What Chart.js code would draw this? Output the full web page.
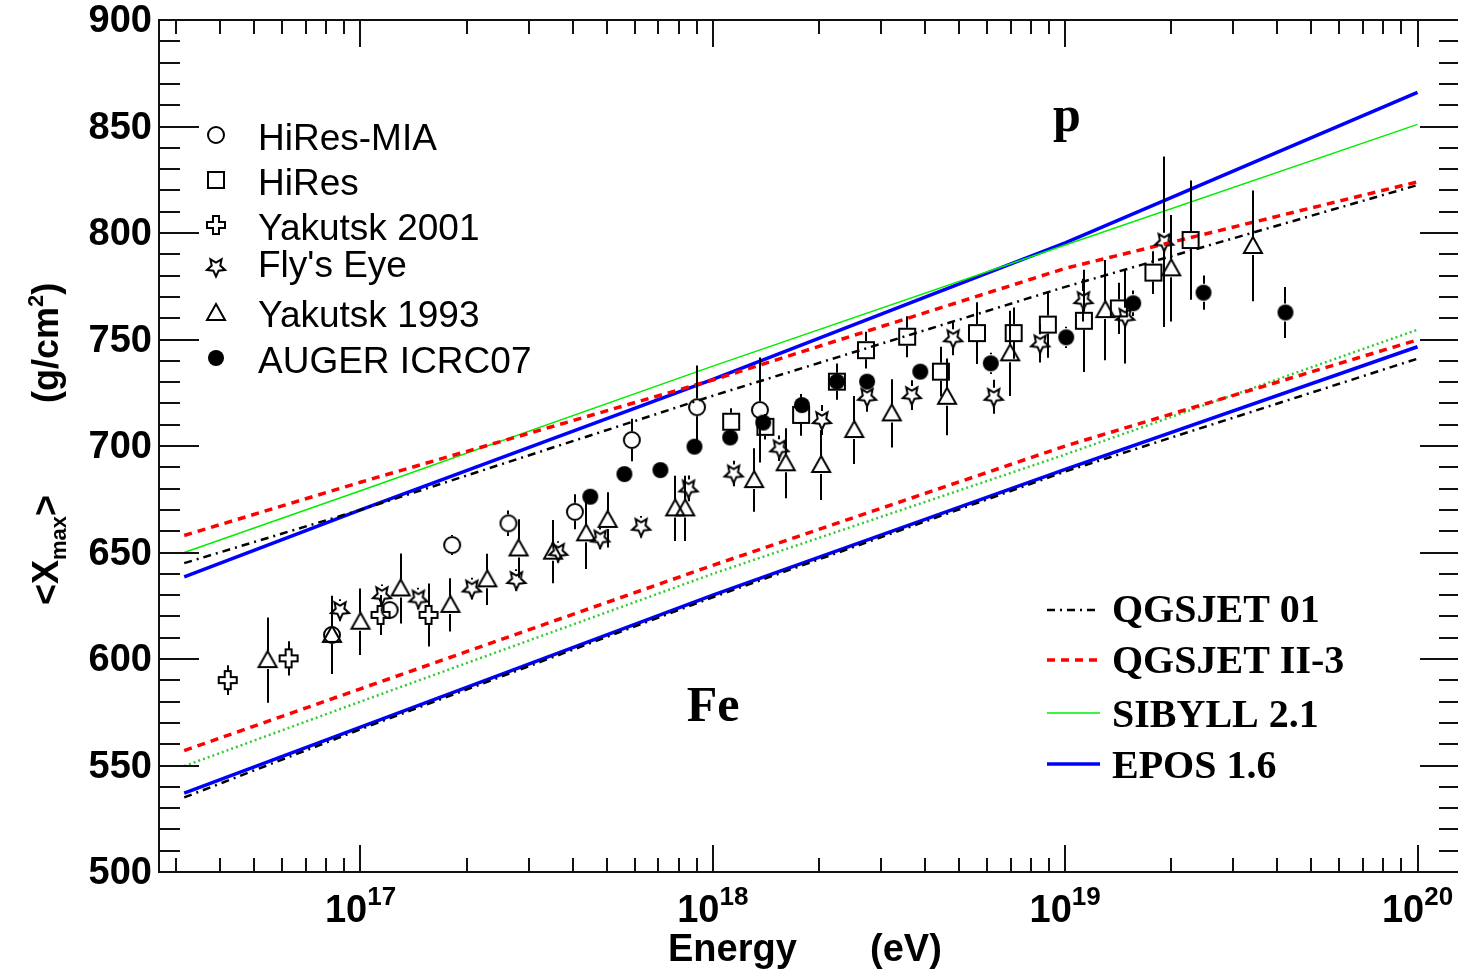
<!DOCTYPE html>
<html>
<head>
<meta charset="utf-8">
<script src="https://cdn.jsdelivr.net/npm/chart.js@4.4.0/dist/chart.umd.min.js"></script>
<style>
html, body { margin: 0; padding: 0; background: #fff; overflow: hidden; }
#wrap { width: 1458px; height: 971px; overflow: hidden; }
canvas { display: block; }
</style>
</head>
<body>
<div id="wrap"><canvas id="myChart" width="1464" height="971"></canvas></div>
<script>
// ---- model predictions (energy in eV, <Xmax> in g/cm2) ----
const modelEnergy = [3.16e16, 1e17, 1e18, 1e19, 1e20];
const qgsjet01P  = [645, 670, 723.6, 774.7, 822.5];
const qgsjet01Fe = [535, 567, 629, 688, 741];
const qgsjet2P   = [658, 683, 731, 783.4, 824];
const qgsjet2Fe  = [557, 586, 644, 700, 749.8];
const sibyllP    = [650, 679, 737.5, 794.4, 851];
const sibyllFe   = [549.7, 580, 640, 696, 754.6];
const eposP      = [638.6, 670, 731.3, 795.4, 866];
const eposFe     = [537, 568, 630, 689, 746.6];

// ---- measurements ----
const hiresMiaE   = [8.3e16, 1.21e17, 1.82e17, 2.63e17, 4.06e17, 5.89e17, 9.02e17, 1.36e18];
const hiresMiaX   = [611.3, 623, 653.5, 663.7, 669.1, 702.8, 718.2, 716.9];
const hiresMiaErr = [4, 4, 4.7, 6, 8.2, 10, 19.6, 24.6];

const hiresE   = [1.127e18, 1.41e18, 1.78e18, 2.25e18, 2.72e18, 3.56e18, 4.44e18, 5.62e18, 7.14e18, 8.93e18, 1.13e19, 1.42e19, 1.78e19, 2.27e19];
const hiresX   = [711.4, 709, 714.6, 730.2, 745, 751.3, 734.9, 753, 753, 757, 758.8, 764.6, 781.4, 796.7];
const hiresErr = [6.3, 6, 9.8, 8.5, 8.6, 9.6, 11.7, 14.5, 12, 15.6, 24, 12, 10, 28];

const yak2001E   = [4.2e16, 6.25e16, 1.14e17, 1.56e17];
const yak2001X   = [590.1, 600.3, 620.7, 620.7];
const yak2001Err = [7, 8, 9.4, 14.8];

const flysEyeE   = [8.75e16, 1.15e17, 1.46e17, 2.07e17, 2.77e17, 3.64e17, 4.79e17, 6.26e17, 8.53e17, 1.146e18, 1.545e18, 2.04e18, 2.74e18, 3.67e18, 4.81e18, 6.27e18, 8.49e18, 1.127e19, 1.48e19, 1.91e19];
const flysEyeX   = [623, 630, 628.4, 633.1, 637.1, 650.3, 656.6, 662.1, 680.1, 687.1, 698.9, 712.2, 723.1, 723.9, 750.6, 723.1, 748.2, 768.5, 760.7, 795.9];
const flysEyeErr = [5, 5, 5, 5, 5, 5, 5, 5, 6, 6, 6, 7, 7, 7, 8, 8, 9, 10, 22, 40];

const yak1993E   = [5.45e16, 8.3e16, 1.0e17, 1.3e17, 1.8e17, 2.29e17, 2.81e17, 3.52e17, 4.37e17, 5.03e17, 7.82e17, 8.35e17, 1.31e18, 1.61e18, 2.03e18, 2.52e18, 3.22e18, 4.62e18, 6.98e18, 1.3e19, 2.0e19, 3.41e19];
const yak1993X   = [599.5, 611.3, 617.5, 633.1, 625.4, 637.4, 651.9, 650.4, 659, 665.3, 670.7, 670.7, 684, 691.9, 691.1, 707.5, 715.3, 723.1, 743.5, 763.8, 783.4, 793.9];
const yak1993Err = [20, 18.4, 15.6, 16.4, 12.5, 12, 13.7, 14.8, 16.8, 13, 15.3, 15.3, 14.9, 16.4, 16.4, 16, 16, 18, 20, 23.5, 25, 26];

const augerE   = [4.49e17, 5.61e17, 7.1e17, 8.87e17, 1.12e18, 1.39e18, 1.79e18, 2.25e18, 2.74e18, 3.88e18, 6.15e18, 1.007e19, 1.56e19, 2.47e19, 4.22e19];
const augerX   = [676.2, 686.8, 688.7, 699.7, 704, 711, 719.2, 730.2, 730.2, 734.9, 738.8, 751, 767, 772, 762.7];
const augerErr = [3, 3, 3, 3, 3, 3, 4, 4, 4, 4, 5, 5, 6, 8, 12];

// ---- axes ----
const xMin = 2.68e16, xMax = 1.32e20;
const yMin = 500, yMax = 900;
const yTickLabels = ['500', '550', '600', '650', '700', '750', '800', '850', '900'];
const xTickExponents = ['17', '18', '19', '20'];

const SANS = '"Liberation Sans", Arial, sans-serif';
const SERIF = '"Liberation Serif", "Times New Roman", serif';

function makeMarker(kind) {
    const c = document.createElement('canvas');
    c.width = 24; c.height = 24;
    const g = c.getContext('2d');
    const m = 12;
    g.strokeStyle = '#000';
    g.fillStyle = '#000';
    g.lineWidth = 2;
    g.lineJoin = 'miter';
    g.beginPath();
    if (kind === 'circle') {
        g.arc(m, m, 8, 0, Math.PI * 2);
        g.stroke();
    } else if (kind === 'dot') {
        g.arc(m, m, 8, 0, Math.PI * 2);
        g.fill();
    } else if (kind === 'square') {
        g.rect(m - 8, m - 8, 16, 16);
        g.stroke();
    } else if (kind === 'triangle') {
        g.moveTo(m, m - 9);
        g.lineTo(m + 9, m + 7);
        g.lineTo(m - 9, m + 7);
        g.closePath();
        g.stroke();
    } else if (kind === 'cross') {
        const w = 3, l = 9;
        const pts = [[-w,-l],[w,-l],[w,-w],[l,-w],[l,w],[w,w],[w,l],[-w,l],[-w,w],[-l,w],[-l,-w],[-w,-w]];
        pts.forEach((p, i) => i ? g.lineTo(m + p[0], m + p[1]) : g.moveTo(m + p[0], m + p[1]));
        g.closePath();
        g.stroke();
    } else if (kind === 'star') {
        for (let i = 0; i < 10; i++) {
            const a = Math.PI / 2 + i * Math.PI / 5;
            const r = i % 2 === 0 ? 9.5 : 4.5;
            const px = m + r * Math.cos(a), py = m + r * Math.sin(a);
            i ? g.lineTo(px, py) : g.moveTo(px, py);
        }
        g.closePath();
        g.stroke();
    }
    return c;
}

const markers = {
    circle: makeMarker('circle'),
    square: makeMarker('square'),
    cross: makeMarker('cross'),
    star: makeMarker('star'),
    triangle: makeMarker('triangle'),
    dot: makeMarker('dot')
};

function toXY(es, vs) {
    return es.map((e, i) => ({ x: e, y: vs[i] }));
}

function modelLine(label, vals, color, width, dash, order, legendRow) {
    return {
        label: label,
        data: toXY(modelEnergy, vals),
        showLine: true,
        borderColor: color,
        backgroundColor: color,
        borderWidth: width,
        borderDash: dash,
        pointRadius: 0,
        fill: false,
        tension: 0,
        order: order,
        legendRow: legendRow
    };
}

function measured(label, es, vs, errs, marker, legendRow) {
    return {
        label: label,
        data: toXY(es, vs),
        errors: errs,
        showLine: false,
        pointStyle: markers[marker],
        pointRadius: 9,
        order: 0,
        markerRow: legendRow
    };
}

const datasets = [
    modelLine('QGSJET 01', qgsjet01P, '#000000', 2.5, [8, 5, 2, 5], 1, 0),
    modelLine('QGSJET 01 Fe', qgsjet01Fe, '#000000', 2.5, [8, 5, 2, 5], 1, -1),
    modelLine('QGSJET II-3', qgsjet2P, '#ff0000', 3.5, [8, 6], 2, 1),
    modelLine('QGSJET II-3 Fe', qgsjet2Fe, '#ff0000', 3.5, [8, 6], 2, -1),
    modelLine('SIBYLL 2.1', sibyllP, '#00ee00', 1.5, [], 3, 2),
    modelLine('SIBYLL 2.1 Fe', sibyllFe, '#33cc33', 2.5, [2, 3], 3, -1),
    modelLine('EPOS 1.6', eposP, '#0000ff', 3.5, [], 4, 3),
    modelLine('EPOS 1.6 Fe', eposFe, '#0000ff', 3.5, [], 4, -1),
    measured('HiRes-MIA', hiresMiaE, hiresMiaX, hiresMiaErr, 'circle', 0),
    measured('HiRes', hiresE, hiresX, hiresErr, 'square', 1),
    measured('Yakutsk 2001', yak2001E, yak2001X, yak2001Err, 'cross', 2),
    measured("Fly's Eye", flysEyeE, flysEyeX, flysEyeErr, 'star', 3),
    measured('Yakutsk 1993', yak1993E, yak1993X, yak1993Err, 'triangle', 4),
    measured('AUGER ICRC07', augerE, augerX, augerErr, 'dot', 5)
];

// error bars, drawn just before their markers, leaving the marker area open
const errorBars = {
    id: 'errorBars',
    beforeDatasetDraw(chart, args) {
        const ds = chart.data.datasets[args.index];
        if (!ds.errors) return;
        const { ctx, scales: { x, y } } = chart;
        ctx.save();
        ctx.strokeStyle = '#000';
        ctx.lineWidth = 2;
        ds.data.forEach((p, i) => {
            const e = ds.errors[i];
            const px = Math.round(x.getPixelForValue(p.x));
            const cy = y.getPixelForValue(p.y);
            const top = y.getPixelForValue(p.y + e);
            const bot = y.getPixelForValue(p.y - e);
            ctx.beginPath();
            if (top < cy - 9) { ctx.moveTo(px, top); ctx.lineTo(px, cy - 9); }
            if (bot > cy + 9) { ctx.moveTo(px, cy + 9); ctx.lineTo(px, bot); }
            ctx.stroke();
        });
        ctx.restore();
    }
};

// ROOT-like frame with inward ticks on all four sides, labels and legends
const rootFrame = {
    id: 'rootFrame',
    afterDatasetsDraw(chart) {
        const { ctx, chartArea: a, scales: { x, y } } = chart;
        ctx.save();
        ctx.strokeStyle = '#111';
        ctx.lineWidth = 2;
        ctx.strokeRect(a.left, a.top, a.right - a.left, a.bottom - a.top);
        ctx.beginPath();
        for (let v = yMin; v <= yMax; v += 10) {
            const len = v % 50 === 0 ? 40 : 21;
            const py = Math.round(y.getPixelForValue(v));
            ctx.moveTo(a.left, py); ctx.lineTo(a.left + len, py);
            ctx.moveTo(a.right, py); ctx.lineTo(a.right - len, py);
        }
        for (let ex = 16; ex <= 20; ex++) {
            for (let m = 1; m <= 9; m++) {
                const v = m * Math.pow(10, ex);
                if (v < xMin || v > xMax) continue;
                const len = m === 1 ? 27 : 14;
                const px = Math.round(x.getPixelForValue(v));
                ctx.moveTo(px, a.bottom); ctx.lineTo(px, a.bottom - len);
                ctx.moveTo(px, a.top); ctx.lineTo(px, a.top + len);
            }
        }
        ctx.stroke();
        ctx.restore();
    },
    afterDraw(chart) {
        const { ctx, scales: { x, y } } = chart;
        ctx.save();
        ctx.fillStyle = '#000';

        // y tick labels
        ctx.font = 'bold 38px ' + SANS;
        ctx.textAlign = 'right';
        ctx.textBaseline = 'middle';
        yTickLabels.forEach(t => {
            ctx.fillText(t, 152, y.getPixelForValue(Number(t)) + 2);
        });

        // x tick labels 10^n
        ctx.textAlign = 'left';
        ctx.textBaseline = 'alphabetic';
        xTickExponents.forEach(ex => {
            const px = x.getPixelForValue(Math.pow(10, Number(ex)));
            ctx.font = 'bold 38px ' + SANS;
            const w1 = ctx.measureText('10').width;
            ctx.font = 'bold 26px ' + SANS;
            const w2 = ctx.measureText(ex).width;
            const left = px - (w1 + w2) / 2;
            ctx.font = 'bold 38px ' + SANS;
            ctx.fillText('10', left, 922);
            ctx.font = 'bold 26px ' + SANS;
            ctx.fillText(ex, left + w1, 905);
        });

        // x title
        ctx.font = 'bold 38px ' + SANS;
        ctx.fillText('Energy', 668, 961);
        ctx.fillText('(eV)', 870, 961);

        // y title (rotated)
        ctx.save();
        ctx.translate(58, 605);
        ctx.rotate(-Math.PI / 2);
        let cx = 0;
        const piece = (txt, size, dy) => {
            ctx.font = 'bold ' + size + 'px ' + SANS;
            ctx.fillText(txt, cx, dy);
            cx += ctx.measureText(txt).width;
        };
        piece('<X', 36, 0);
        piece('max', 22, 8);
        piece('>', 36, 0);
        cx = 605 - 403;
        piece('(g/cm', 36, 0);
        piece('2', 22, -15);
        piece(')', 36, 0);
        ctx.restore();

        // p / Fe labels
        ctx.font = 'bold 50px ' + SERIF;
        ctx.textAlign = 'center';
        ctx.fillText('p', 1067, 131);
        ctx.fillText('Fe', 713, 721);

        // measurement legend (top left)
        ctx.textAlign = 'left';
        ctx.font = '37px ' + SANS;
        const markerRows = [135, 180, 225, 267, 313, 358];
        const markerBase = [150, 195, 240, 277, 327, 373];
        chart.data.datasets.forEach(ds => {
            if (ds.markerRow === undefined) return;
            const r = ds.markerRow;
            const img = ds.pointStyle;
            ctx.drawImage(img, 216 - img.width / 2, markerRows[r] - img.height / 2);
            ctx.fillText(ds.label, 258, markerBase[r]);
        });

        // model legend (bottom right)
        const lineRows = [610, 660, 713, 764];
        const textBase = [622, 673, 727, 778];
        ctx.font = 'bold 40px ' + SERIF;
        chart.data.datasets.forEach(ds => {
            if (ds.legendRow === undefined || ds.legendRow < 0) return;
            const r = ds.legendRow;
            ctx.save();
            ctx.strokeStyle = ds.borderColor;
            ctx.lineWidth = ds.borderWidth;
            ctx.setLineDash(ds.borderDash);
            ctx.beginPath();
            ctx.moveTo(1047, lineRows[r]);
            ctx.lineTo(1100, lineRows[r]);
            ctx.stroke();
            ctx.restore();
            ctx.fillText(ds.label, 1112, textBase[r]);
        });
        ctx.restore();
    }
};

const chart = new Chart(document.getElementById('myChart').getContext('2d'), {
    type: 'scatter',
    data: { datasets: datasets },
    options: {
        responsive: false,
        animation: false,
        events: [],
        layout: {
            autoPadding: false,
            padding: { left: 159, top: 20, right: 4, bottom: 99 }
        },
        plugins: {
            legend: { display: false },
            tooltip: { enabled: false }
        },
        scales: {
            x: { type: 'logarithmic', min: xMin, max: xMax, display: false },
            y: { type: 'linear', min: yMin, max: yMax, display: false }
        }
    },
    plugins: [errorBars, rootFrame]
});
</script>
</body>
</html>
